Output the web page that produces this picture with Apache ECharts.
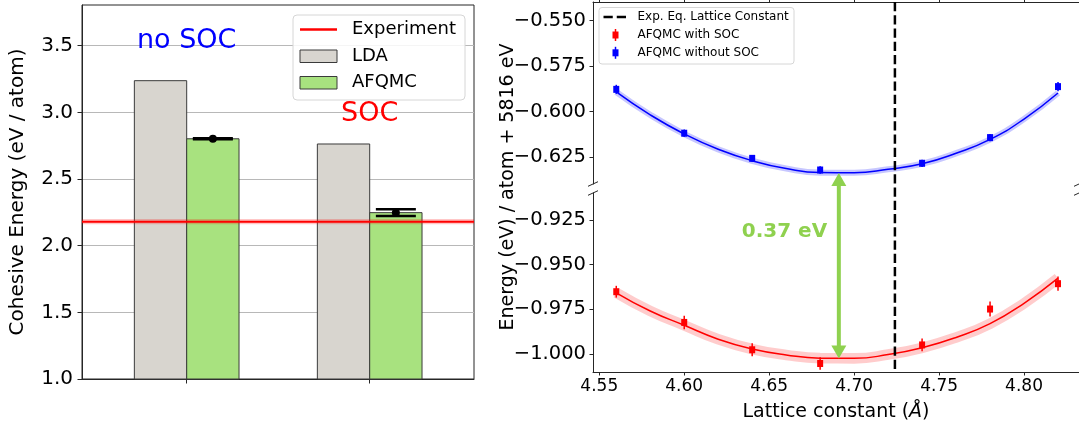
<!DOCTYPE html>
<html><head><meta charset="utf-8">
<script src="https://cdn.jsdelivr.net/npm/echarts@6/dist/echarts.min.js"></script>
<style>html,body{margin:0;padding:0;background:#fff}#c{width:1079px;height:423px}</style>
</head><body><div id="c"></div>
<script>
// ---------- Left panel data ----------
const groupLabels = ['no SOC', 'SOC'];
const ldaValues = [3.238, 2.763];
const afqmcValues = [2.802, 2.248];
const afqmcErrors = [0.004, 0.025];
const experimentValue = 2.18;
const experimentBand = 0.02;
const leftYTicks = [1.0, 1.5, 2.0, 2.5, 3.0, 3.5];

// ---------- Right panel data ----------
const latticeConstants = [4.56, 4.60, 4.64, 4.68, 4.74, 4.78, 4.82];
const energyNoSOC = [-0.5877, -0.6118, -0.6256, -0.6320, -0.6283, -0.6142, -0.5862];
const errNoSOC = [0.0025, 0.0020, 0.0018, 0.0020, 0.0020, 0.0020, 0.0025];
const energySOC = [-0.9651, -0.9823, -0.9976, -1.0053, -0.9949, -0.9748, -0.9606];
const errSOC = [0.0033, 0.0038, 0.0037, 0.0035, 0.0036, 0.0042, 0.0040];
const fitX = [4.56, 4.58, 4.60, 4.62, 4.64, 4.66, 4.68, 4.70, 4.72, 4.74, 4.76, 4.78, 4.80, 4.82];
const fitNoSOC = [-0.5891, -0.6017, -0.6122, -0.6206, -0.6269, -0.6312, -0.6334, -0.6335, -0.6316, -0.6286, -0.6228, -0.6152, -0.6040, -0.5897];
const fitSOC = [-0.9657, -0.9759, -0.9839, -0.9917, -0.9972, -1.0005, -1.0023, -1.0024, -1.0003, -0.9965, -0.9907, -0.9830, -0.9716, -0.9575];
const bandNoSOC = 0.0017;
const bandSOC = 0.0029;
const expLattice = 4.724;
const arrowX = 4.691;
const arrowEnds = [-0.6337, -1.0025];
const gapLabel = '0.37 eV';
const gapLabelPos = [4.659, -0.9317];
const xTicks = [4.55, 4.60, 4.65, 4.70, 4.75, 4.80];
const topYTicks = [-0.625, -0.600, -0.575, -0.550];
const bottomYTicks = [-1.000, -0.975, -0.950, -0.925];

// ---------- Styling / layout ----------
const FONT = 'DejaVu Sans';
const AX = '#262626';
const LDA_FILL = '#d8d5cf';
const AFQ_FILL = '#a8e27f';
const GREEN = '#8fd14f';
const barWidth = 0.286;
const leftX = [-0.5721, 1.5700];
const leftY = [1.0, 3.8057];
const rightX = [4.54631, 4.83235];
const topY = [-0.63968, -0.53973];
const botY = [-1.01005, -0.90983];
const TOP_H = 182, BOT_H = 183;

function minusFmt(d) { return v => (v < 0 ? '\u2212' : '') + Math.abs(v).toFixed(d); }

function barRenderer(offset, fill) {
  return function (params, api) {
    const x = api.value(0) + offset, v = api.value(1);
    const p0 = api.coord([x - barWidth / 2, v]);
    const p1 = api.coord([x + barWidth / 2, leftY[0]]);
    return { type: 'rect', shape: { x: p0[0], y: p0[1], width: p1[0] - p0[0], height: p1[1] - p0[1] },
      style: { fill: fill, stroke: '#3a3a3a', lineWidth: 1 } };
  };
}

function errRendererLeft(offset) {
  return function (params, api) {
    const x = api.value(0) + offset, v = api.value(1), e = api.value(2);
    const c = api.coord([x, v]), hi = api.coord([x, v + e]), lo = api.coord([x, v - e]);
    const cap = 20;
    return { type: 'group', children: [
      { type: 'line', shape: { x1: c[0], y1: hi[1], x2: c[0], y2: lo[1] }, style: { stroke: '#000', lineWidth: 2.5 } },
      { type: 'line', shape: { x1: c[0] - cap, y1: hi[1], x2: c[0] + cap, y2: hi[1] }, style: { stroke: '#000', lineWidth: 2.5 } },
      { type: 'line', shape: { x1: c[0] - cap, y1: lo[1], x2: c[0] + cap, y2: lo[1] }, style: { stroke: '#000', lineWidth: 2.5 } },
      { type: 'circle', shape: { cx: c[0], cy: c[1], r: 4 }, style: { fill: '#000' } }
    ] };
  };
}

function expRenderer(params, api) {
  const v = api.value(0), b = api.value(1);
  const a = api.coord([leftX[0], v + b]), c = api.coord([leftX[1], v - b]);
  const m0 = api.coord([leftX[0], v]), m1 = api.coord([leftX[1], v]);
  return { type: 'group', children: [
    { type: 'rect', shape: { x: a[0], y: a[1], width: c[0] - a[0], height: c[1] - a[1] }, style: { fill: 'rgba(255,0,0,0.22)' } },
    { type: 'line', shape: { x1: m0[0], y1: m0[1], x2: m1[0], y2: m1[1] }, style: { stroke: '#ff0000', lineWidth: 2 } }
  ] };
}

function pointRenderer(color) {
  return function (params, api) {
    const x = api.value(0), v = api.value(1), e = api.value(2);
    const c = api.coord([x, v]), hi = api.coord([x, v + e]), lo = api.coord([x, v - e]);
    return { type: 'group', children: [
      { type: 'line', shape: { x1: c[0], y1: hi[1], x2: c[0], y2: lo[1] }, style: { stroke: color, lineWidth: 1.5 } },
      { type: 'rect', shape: { x: c[0] - 3, y: c[1] - 3.5, width: 6, height: 7 }, style: { fill: color } }
    ] };
  };
}

const zip3 = (a, b, c) => a.map((v, i) => [v, b[i], c[i]]);
const pairs = (a, b) => a.map((v, i) => [v, b[i]]);
// band thickness in pixels from the axis scale (data units -> px)
const bandPxTop = 2 * bandNoSOC * TOP_H / (topY[1] - topY[0]);
const bandPxBot = 2 * bandSOC * BOT_H / (botY[1] - botY[0]);

const commonAxisLabel = { fontFamily: FONT, color: '#000' };

const option = {
  animation: false,
  backgroundColor: '#fff',
  grid: [
    { left: 82, top: 5, width: 392, height: 374, show: true, borderColor: AX, borderWidth: 1, backgroundColor: 'transparent' },
    { left: 593, top: 2, width: 489, height: TOP_H },
    { left: 593, top: 193, width: 489, height: BOT_H }
  ],
  xAxis: [
    { gridIndex: 0, type: 'value', min: leftX[0], max: leftX[1],
      axisLine: { show: true, onZero: false, lineStyle: { color: AX } },
      axisTick: { show: true, length: 4.5, customValues: [0, 1], lineStyle: { color: AX } },
      axisLabel: { show: false }, splitLine: { show: false } },
    { gridIndex: 1, type: 'value', position: 'top', min: rightX[0], max: rightX[1],
      axisLine: { show: true, onZero: false, lineStyle: { color: AX } },
      axisTick: { show: true, length: 3.5, customValues: xTicks, lineStyle: { color: AX } },
      axisLabel: { show: false }, splitLine: { show: false } },
    { gridIndex: 2, type: 'value', position: 'bottom', min: rightX[0], max: rightX[1],
      axisLine: { show: true, onZero: false, lineStyle: { color: AX } },
      axisTick: { show: true, length: 3.5, customValues: xTicks, lineStyle: { color: AX } },
      axisLabel: Object.assign({ fontSize: 17, margin: 6, customValues: xTicks, formatter: v => v.toFixed(2) }, commonAxisLabel),
      splitLine: { show: false },
      name: 'Lattice constant ({i|Å})', nameLocation: 'middle', nameGap: 31,
      nameTextStyle: { fontFamily: FONT, fontSize: 19, color: '#000', rich: { i: { fontFamily: FONT, fontSize: 19, fontStyle: 'italic' } } } }
  ],
  yAxis: [
    { gridIndex: 0, type: 'value', min: leftY[0], max: leftY[1],
      axisLine: { show: true, onZero: false, lineStyle: { color: AX } },
      axisTick: { show: true, length: 4.5, customValues: leftYTicks, lineStyle: { color: AX } },
      axisLabel: Object.assign({ fontSize: 20, margin: 9, customValues: leftYTicks, formatter: v => v.toFixed(1) }, commonAxisLabel),
      splitLine: { show: true, lineStyle: { color: '#b8b8b8', width: 1 } },
      name: 'Cohesive Energy (eV / atom)', nameLocation: 'middle', nameGap: 54,
      nameTextStyle: { fontFamily: FONT, fontSize: 20, color: '#000' } },
    { gridIndex: 1, type: 'value', min: topY[0], max: topY[1],
      axisLine: { show: true, onZero: false, lineStyle: { color: AX } },
      axisTick: { show: true, length: 3.5, customValues: topYTicks, lineStyle: { color: AX } },
      axisLabel: Object.assign({ fontSize: 19.5, margin: 7, customValues: topYTicks, formatter: minusFmt(3) }, commonAxisLabel),
      splitLine: { show: false } },
    { gridIndex: 2, type: 'value', min: botY[0], max: botY[1],
      axisLine: { show: true, onZero: false, lineStyle: { color: AX } },
      axisTick: { show: true, length: 3.5, customValues: bottomYTicks, lineStyle: { color: AX } },
      axisLabel: Object.assign({ fontSize: 19.5, margin: 7, customValues: bottomYTicks, formatter: minusFmt(3) }, commonAxisLabel),
      splitLine: { show: false } }
  ],
  series: [
    // left panel
    { type: 'custom', xAxisIndex: 0, yAxisIndex: 0, renderItem: barRenderer(-barWidth / 2, LDA_FILL),
      data: groupLabels.map((g, i) => [i, ldaValues[i]]), z: 2 },
    { type: 'custom', xAxisIndex: 0, yAxisIndex: 0, renderItem: barRenderer(barWidth / 2, AFQ_FILL),
      data: groupLabels.map((g, i) => [i, afqmcValues[i]]), z: 2 },
    { type: 'custom', xAxisIndex: 0, yAxisIndex: 0, renderItem: expRenderer,
      data: [[experimentValue, experimentBand]], z: 3, clip: true },
    { type: 'custom', xAxisIndex: 0, yAxisIndex: 0, renderItem: errRendererLeft(barWidth / 2),
      data: groupLabels.map((g, i) => [i, afqmcValues[i], afqmcErrors[i]]), z: 4 },
    // right top: no SOC (fit band, fit line, points)
    { type: 'line', xAxisIndex: 1, yAxisIndex: 1, data: pairs(fitX, fitNoSOC), smooth: 0.5, showSymbol: false,
      lineStyle: { color: 'rgba(0,0,255,0.22)', width: bandPxTop, cap: 'butt' }, z: 1 },
    { type: 'line', xAxisIndex: 1, yAxisIndex: 1, data: pairs(fitX, fitNoSOC), smooth: 0.5, showSymbol: false,
      lineStyle: { color: '#0000ff', width: 1.5 }, z: 2 },
    { type: 'custom', xAxisIndex: 1, yAxisIndex: 1, renderItem: pointRenderer('#0000ff'),
      data: zip3(latticeConstants, energyNoSOC, errNoSOC), z: 3 },
    // right bottom: SOC
    { type: 'line', xAxisIndex: 2, yAxisIndex: 2, data: pairs(fitX, fitSOC), smooth: 0.5, showSymbol: false,
      lineStyle: { color: 'rgba(255,0,0,0.2)', width: bandPxBot, cap: 'butt' }, z: 1 },
    { type: 'line', xAxisIndex: 2, yAxisIndex: 2, data: pairs(fitX, fitSOC), smooth: 0.5, showSymbol: false,
      lineStyle: { color: '#ff0000', width: 1.5 }, z: 2 },
    { type: 'custom', xAxisIndex: 2, yAxisIndex: 2, renderItem: pointRenderer('#ff0000'),
      data: zip3(latticeConstants, energySOC, errSOC), z: 3 }
  ]
};

const chart = echarts.init(document.getElementById('c'), null, { renderer: 'canvas' });
chart.setOption(option);

const px = (g, pt) => chart.convertToPixel({ gridIndex: g }, pt);
const g = [];
// Left panel annotations
const noSocPos = px(0, [0, 3.535]);
const socPos = px(0, [1, 2.99]);
g.push({ type: 'text', x: noSocPos[0], y: noSocPos[1], z: 20,
  style: { text: 'no SOC', fill: '#0000ff', font: '27px "DejaVu Sans"', align: 'center', verticalAlign: 'middle' } });
g.push({ type: 'text', x: socPos[0], y: socPos[1], z: 20,
  style: { text: 'SOC', fill: '#ff0000', font: '27px "DejaVu Sans"', align: 'center', verticalAlign: 'middle' } });
// Left legend
g.push({ type: 'rect', shape: { x: 293, y: 15, width: 172, height: 85, r: 4 }, z: 20,
  style: { fill: 'rgba(255,255,255,0.85)', stroke: '#d6d6d6', lineWidth: 1 } });
g.push({ type: 'line', shape: { x1: 300, y1: 29.5, x2: 337, y2: 29.5 }, z: 21, style: { stroke: '#ff0000', lineWidth: 2.5 } });
g.push({ type: 'rect', shape: { x: 300, y: 50, width: 37, height: 12.5 }, z: 21, style: { fill: LDA_FILL, stroke: '#3a3a3a', lineWidth: 1 } });
g.push({ type: 'rect', shape: { x: 300, y: 76.5, width: 37, height: 12.5 }, z: 21, style: { fill: AFQ_FILL, stroke: '#3a3a3a', lineWidth: 1 } });
[['Experiment', 29.5], ['LDA', 56.2], ['AFQMC', 82.8]].forEach(([t, y]) => g.push({ type: 'text', x: 352, y: y, z: 21,
  style: { text: t, fill: '#000', font: '18px "DejaVu Sans"', verticalAlign: 'middle' } }));

// Right panel: dashed vertical line across both grids
const dTop = px(1, [expLattice, topY[1]]), dBot = px(2, [expLattice, botY[0]]);
g.push({ type: 'line', shape: { x1: dTop[0], y1: dTop[1], x2: dBot[0], y2: dBot[1] }, z: 15,
  style: { stroke: '#000', lineWidth: 2.5, lineDash: [9.25, 4] } });
// double arrow
const aTop = px(1, [arrowX, arrowEnds[0]]), aBot = px(2, [arrowX, arrowEnds[1]]);
const hl = 13, hw = 7.5;
g.push({ type: 'line', shape: { x1: aTop[0], y1: aTop[1] + hl - 1, x2: aBot[0], y2: aBot[1] - hl + 1 }, z: 16,
  style: { stroke: GREEN, lineWidth: 4 } });
g.push({ type: 'polygon', shape: { points: [[aTop[0], aTop[1]], [aTop[0] - hw, aTop[1] + hl], [aTop[0] + hw, aTop[1] + hl]] }, z: 16, style: { fill: GREEN } });
g.push({ type: 'polygon', shape: { points: [[aBot[0], aBot[1]], [aBot[0] - hw, aBot[1] - hl], [aBot[0] + hw, aBot[1] - hl]] }, z: 16, style: { fill: GREEN } });
const lp = px(2, gapLabelPos);
g.push({ type: 'text', x: lp[0], y: lp[1], z: 16,
  style: { text: gapLabel, fill: GREEN, font: 'bold 20px "DejaVu Sans"', align: 'center', verticalAlign: 'middle' } });
// break marks
const tl = px(1, [rightX[0], topY[0]]), tr = px(1, [rightX[1], topY[0]]);
const bl = px(2, [rightX[0], botY[1]]), br = px(2, [rightX[1], botY[1]]);
[tl, tr, bl, br].forEach(p => g.push({ type: 'line', shape: { x1: p[0] - 5, y1: p[1] + 2.3, x2: p[0] + 5, y2: p[1] - 2.3 }, z: 16,
  style: { stroke: AX, lineWidth: 1 } }));
// right y-axis title spanning both grids
const topEdge = px(1, [rightX[0], topY[1]]), botEdge = px(2, [rightX[0], botY[0]]);
g.push({ type: 'text', x: 508, y: (topEdge[1] + botEdge[1]) / 2, rotation: Math.PI / 2, z: 16,
  style: { text: 'Energy (eV) / atom + 5816 eV', fill: '#000', font: '19px "DejaVu Sans"', align: 'center', verticalAlign: 'middle' } });
// Right legend
g.push({ type: 'rect', shape: { x: 599, y: 7.5, width: 195, height: 56.5, r: 3 }, z: 20,
  style: { fill: 'rgba(255,255,255,0.85)', stroke: '#d6d6d6', lineWidth: 1 } });
g.push({ type: 'line', shape: { x1: 603.5, y1: 17, x2: 627.5, y2: 17 }, z: 21, style: { stroke: '#000', lineWidth: 2.5, lineDash: [9.25, 4] } });
[['#ff0000', 35], ['#0000ff', 52.8]].forEach(([c, y]) => {
  g.push({ type: 'line', shape: { x1: 615.5, y1: y - 6, x2: 615.5, y2: y + 6 }, z: 21, style: { stroke: c, lineWidth: 1.5 } });
  g.push({ type: 'rect', shape: { x: 612.5, y: y - 3.5, width: 6, height: 7 }, z: 21, style: { fill: c } });
});
[['Exp. Eq. Lattice Constant', 17], ['AFQMC with SOC', 35], ['AFQMC without SOC', 52.8]].forEach(([t, y]) => g.push({ type: 'text', x: 637.5, y: y, z: 21,
  style: { text: t, fill: '#000', font: '12px "DejaVu Sans"', verticalAlign: 'middle' } }));

chart.setOption({ graphic: { elements: g } });
</script>
</body></html>
